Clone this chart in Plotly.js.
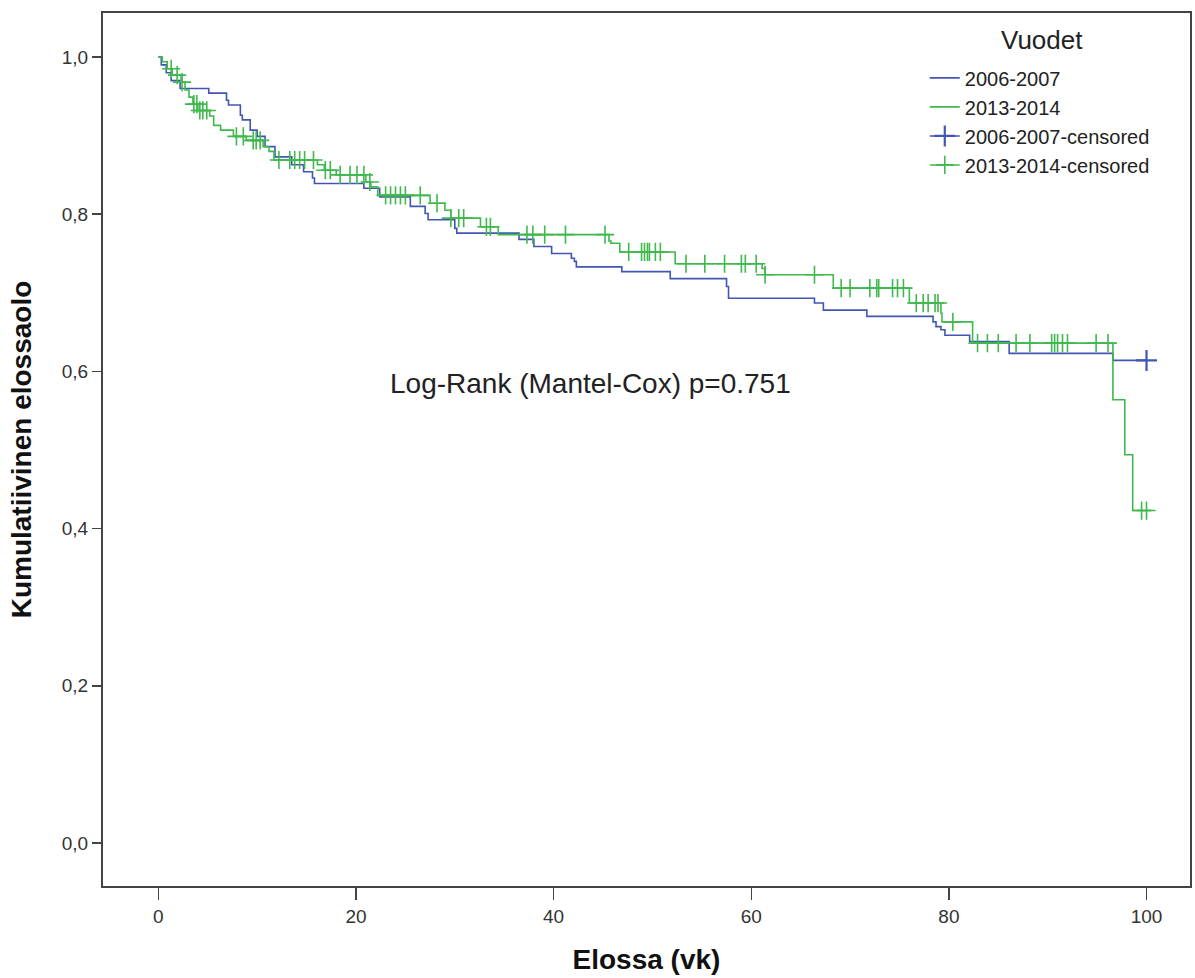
<!DOCTYPE html>
<html>
<head>
<meta charset="utf-8">
<script src="https://cdn.plot.ly/plotly-3.0.1.min.js"></script>
<style>html,body{margin:0;padding:0;background:#fff;}#chart{width:1195px;height:978px;}</style>
</head>
<body>
<div id="chart"></div>
<script>
// Kaplan-Meier step points (time in weeks, cumulative survival after the step)
const blueTimes = [0, 0.3, 0.8, 1.3, 2.2, 5.1, 6.9, 7.1, 8.3, 8.5, 9.3, 10.0, 10.8, 11.8, 13.5, 14.7, 15.6, 15.8, 20.8, 22.4, 25.5, 27.0, 27.3, 30.0, 30.2, 36.5, 38.0, 39.8, 41.8, 42.1, 42.3, 46.9, 51.8, 57.5, 57.7, 66.4, 67.3, 71.7, 78.4, 78.7, 79.2, 79.6, 82.1, 86.1, 96.6, 100.0];
const blueSurv  = [1.0, 0.99, 0.98, 0.97, 0.96, 0.954, 0.945, 0.939, 0.926, 0.92, 0.907, 0.899, 0.886, 0.873, 0.863, 0.854, 0.846, 0.839, 0.833, 0.822, 0.81, 0.801, 0.793, 0.782, 0.776, 0.768, 0.759, 0.75, 0.744, 0.74, 0.733, 0.727, 0.718, 0.708, 0.693, 0.687, 0.678, 0.67, 0.663, 0.657, 0.653, 0.646, 0.638, 0.623, 0.614, 0.614];
const blueCensored = [100.0];

const greenTimes = [0, 0.4, 0.9, 1.4, 2.3, 2.7, 3.1, 3.5, 4.0, 5.2, 5.6, 6.3, 7.6, 8.9, 10.6, 11.2, 11.7, 16.1, 16.8, 18.0, 21.0, 21.5, 22.2, 27.5, 29.0, 29.6, 32.6, 34.4, 45.6, 45.8, 46.7, 52.3, 61.1, 61.4, 68.3, 76.0, 79.2, 79.3, 82.4, 96.6, 97.8, 98.6, 100.5];
const greenSurv  = [1.0, 0.994, 0.985, 0.977, 0.968, 0.958, 0.949, 0.94, 0.932, 0.925, 0.913, 0.907, 0.899, 0.894, 0.886, 0.88, 0.869, 0.863, 0.856, 0.85, 0.841, 0.835, 0.824, 0.814, 0.805, 0.795, 0.784, 0.774, 0.766, 0.763, 0.752, 0.737, 0.731, 0.723, 0.706, 0.687, 0.674, 0.663, 0.636, 0.564, 0.494, 0.423, 0.423];
const greenCensored = [1.3, 1.9, 2.4, 3.6, 3.9, 4.2, 4.5, 4.9, 7.9, 8.6, 9.6, 9.9, 10.3, 12.2, 13.3, 13.8, 14.3, 14.8, 15.7, 16.9, 17.4, 18.4, 19.4, 20.1, 20.8, 21.4, 23.0, 23.5, 24.0, 24.5, 25.0, 26.5, 28.2, 29.6, 30.4, 30.9, 33.2, 33.6, 37.3, 37.9, 39.1, 41.2, 45.2, 47.6, 48.9, 49.2, 49.5, 49.7, 50.3, 50.8, 53.4, 55.3, 57.3, 59.0, 59.4, 60.5, 61.4, 66.4, 69.1, 70.0, 72.0, 72.7, 72.9, 74.3, 74.8, 75.4, 76.7, 77.4, 77.9, 78.6, 78.9, 80.4, 82.9, 83.9, 85.0, 86.8, 88.2, 90.4, 90.7, 91.0, 91.5, 92.0, 94.9, 96.1, 99.5, 100.0];

const seriesNames = ['2006-2007', '2013-2014', '2006-2007-censored', '2013-2014-censored'];
const legendTitle = 'Vuodet';
const xTicks = [0, 20, 40, 60, 80, 100];
const yTicks = [0, 0.2, 0.4, 0.6, 0.8, 1.0];

const BLUE = '#4355b3';
const GREEN = '#3fb94d';

function survAt(times, surv, t) {
  let v = surv[0];
  for (let i = 0; i < times.length; i++) { if (times[i] <= t) v = surv[i]; }
  return v;
}
function censorXY(cens, times, surv) {
  const x = [], y = [];
  cens.forEach(t => { x.push(t, null); y.push(survAt(times, surv, t), null); });
  return {x, y};
}
const bc = censorXY(blueCensored, blueTimes, blueSurv);
const gc = censorXY(greenCensored, greenTimes, greenSurv);

const traces = [
  {x: blueTimes, y: blueSurv, name: seriesNames[0], mode: 'lines', line: {shape: 'hv', color: BLUE, width: 1.6}},
  {x: greenTimes, y: greenSurv, name: seriesNames[1], mode: 'lines', line: {shape: 'hv', color: GREEN, width: 1.6}},
  {x: bc.x, y: bc.y, name: seriesNames[2], mode: 'lines+markers', connectgaps: false,
   line: {color: BLUE, width: 1.5},
   marker: {symbol: 'cross-thin-open', size: 15, line: {color: BLUE, width: 2.2}, color: BLUE}},
  {x: gc.x, y: gc.y, name: seriesNames[3], mode: 'lines+markers', connectgaps: false,
   line: {color: GREEN, width: 1.5},
   marker: {symbol: 'cross-thin-open', size: 13, line: {color: GREEN, width: 1.6}, color: GREEN}}
];

const layout = {
  width: 1195, height: 978,
  margin: {l: 103, r: 5, t: 13, b: 92},
  paper_bgcolor: '#ffffff', plot_bgcolor: '#ffffff',
  separators: ', ',
  font: {family: 'Liberation Sans, Arial, sans-serif', color: '#222'},
  showlegend: true,
  legend: {
    x: 0.756, y: 0.948, xanchor: 'left', yanchor: 'top',
    bgcolor: 'rgba(255,255,255,0)',
    font: {size: 20, color: '#222'},
    tracegroupgap: 0, itemwidth: 30
  },
  xaxis: {
    range: [-5.6, 104.4], tickvals: xTicks, ticktext: xTicks.map(String),
    showgrid: false, zeroline: false,
    showline: true, mirror: true, linecolor: '#444', linewidth: 2,
    ticks: 'outside', ticklen: 12, tickwidth: 1.5, tickcolor: '#444',
    tickfont: {size: 19, color: '#333'},
    title: {text: '<b>Elossa (vk)</b>', font: {size: 28, color: '#111'}, standoff: 24}
  },
  yaxis: {
    range: [-0.0547, 1.056], tickvals: yTicks, tickformat: '.1f',
    showgrid: false, zeroline: false,
    showline: true, mirror: true, linecolor: '#444', linewidth: 2,
    ticks: 'outside', ticklen: 9, tickwidth: 1.5, tickcolor: '#444',
    tickfont: {size: 19, color: '#333'},
    title: {text: '<b>Kumulatiivinen elossaolo</b>', font: {size: 28, color: '#111'}, standoff: 22}
  },
  annotations: [{
    x: 43.7, y: 0.584, xref: 'x', yref: 'y', showarrow: false,
    text: 'Log-Rank (Mantel-Cox) p=0.751', font: {size: 28, color: '#222'}
  }, {
    x: 0.864, y: 0.969, xref: 'paper', yref: 'paper', showarrow: false,
    xanchor: 'center', yanchor: 'middle',
    text: legendTitle, font: {size: 26, color: '#222'}
  }]
};

Plotly.newPlot('chart', traces, layout, {displayModeBar: false, staticPlot: true});
</script>
</body>
</html>
